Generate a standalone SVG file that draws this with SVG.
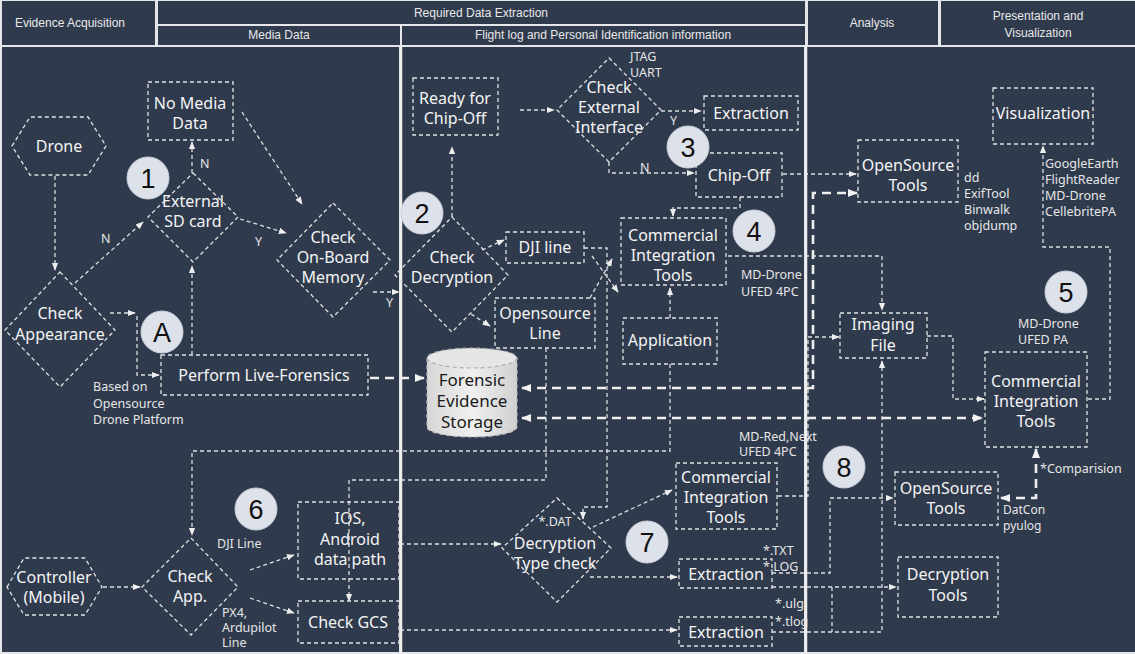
<svg xmlns="http://www.w3.org/2000/svg" width="1135" height="654" viewBox="0 0 1135 654">
<defs>
<style>
.cell{fill:#2f3a4d}
.hd{font-family:"Liberation Sans",Arial,sans-serif;font-size:12px;fill:#e8e8e8;text-anchor:middle}
.sep{stroke:#eeeeee;stroke-width:2.5}
.nd{fill:none;stroke:#e2e2e2;stroke-width:1.3;stroke-dasharray:4 3}
.lb{font-family:"Noto Sans","Open Sans",sans-serif;font-size:16px;fill:#f4f4f4;text-anchor:middle}
.an{font-family:"Noto Sans","Open Sans",sans-serif;font-size:12.5px;fill:#e6e6e6}
.c{fill:none;stroke:#dedede;stroke-width:1.3;stroke-dasharray:4 3}
.t{fill:none;stroke:#eeeeee;stroke-width:2.6;stroke-dasharray:9 6}
.num circle{fill:#dde1ea;stroke:#c9ced8;stroke-width:1}
.num text{font-family:"Liberation Sans",Arial,sans-serif;font-size:27px;fill:#111;text-anchor:middle}
.dk{font-family:"Noto Sans","Open Sans",sans-serif;font-size:17px;fill:#1a1a1a;text-anchor:middle}
</style>
<marker id="ah" viewBox="0 0 10 10" refX="9" refY="5" markerWidth="8" markerHeight="8" markerUnits="userSpaceOnUse" orient="auto-start-reverse"><path d="M0,1 L10,5 L0,9 z" fill="#eeeeee"/></marker>
<marker id="ahb" viewBox="0 0 10 10" refX="9" refY="5" markerWidth="10" markerHeight="10" markerUnits="userSpaceOnUse" orient="auto-start-reverse"><path d="M0,1 L10,5 L0,9 z" fill="#f2f2f2"/></marker>
<linearGradient id="cyl" x1="0" y1="0" x2="1" y2="0"><stop offset="0" stop-color="#d6d6d6"/><stop offset="0.5" stop-color="#f0f0f0"/><stop offset="1" stop-color="#d0d0d0"/></linearGradient>
</defs>

<rect x="0" y="0" width="1135" height="654" fill="#e4e6ea"/>
<!-- header -->
<g id="header">
<rect class="cell" x="2" y="1" width="153" height="44"/>
<rect class="cell" x="158" y="1" width="647" height="23"/>
<rect class="cell" x="158" y="26" width="242" height="19"/>
<rect class="cell" x="402" y="26" width="403" height="19"/>
<rect class="cell" x="808" y="1" width="130" height="44"/>
<rect class="cell" x="941" y="1" width="194" height="44"/>
<text class="hd" x="70" y="27">Evidence Acquisition</text>
<text class="hd" x="481" y="17">Required Data Extraction</text>
<text class="hd" x="279" y="39">Media Data</text>
<text class="hd" x="603" y="39">Flight log and Personal Identification information</text>
<text class="hd" x="872" y="27">Analysis</text>
<text class="hd" x="1038" y="20">Presentation and</text>
<text class="hd" x="1038" y="37">Visualization</text>
</g>
<!-- body panels -->
<rect class="cell" x="2" y="47" width="397" height="605"/>
<rect class="cell" x="402" y="47" width="402" height="605"/>
<rect class="cell" x="807" y="47" width="328" height="605"/>

<!-- connectors -->
<g id="connectors">
<path class="c" d="M55,176 V270" marker-end="url(#ah)"/>
<path class="c" d="M75,283 L143,222" marker-end="url(#ah)"/>
<path class="c" d="M192,173 V142" marker-end="url(#ah)"/>
<path class="c" d="M242,112 L302,204" marker-end="url(#ah)"/>
<path class="c" d="M240,219 L286,233" marker-end="url(#ah)"/>
<path class="c" d="M373,292 H399" marker-end="url(#ah)"/>
<path class="c" d="M110,313 H135" marker-end="url(#ah)"/>
<path class="c" d="M137,316 V375 H159" marker-end="url(#ah)"/>
<path class="c" d="M192,355 V266" marker-end="url(#ah)"/>
<path class="t" d="M370,378 H424" marker-end="url(#ahb)"/>
<path class="c" d="M452,217 V147" marker-end="url(#ah)"/>
<path class="c" d="M520,110 H554" marker-end="url(#ah)"/>
<path class="c" d="M661,111 H701" marker-end="url(#ah)"/>
<path class="c" d="M609,162 V173 H694" marker-end="url(#ah)"/>
<path class="c" d="M783,174 H856" marker-end="url(#ah)"/>
<path class="c" d="M740,197 V208 H673 V216" marker-end="url(#ah)"/>
<path class="c" d="M482,250 L504,240" marker-end="url(#ah)"/>
<path class="c" d="M471,314 L490,326" marker-end="url(#ah)"/>
<path class="c" d="M584,248 H607 V507 H583 V519" marker-end="url(#ah)"/>
<path class="c" d="M592,256 L618,292" marker-end="url(#ah)"/>
<path class="c" d="M590,298 L612,259" marker-end="url(#ah)"/>
<path class="c" d="M670,318 V288" marker-end="url(#ah)"/>
<path class="c" d="M670,364 V451 H192 V535" marker-end="url(#ah)"/>
<path class="c" d="M546,348 V480 H349 V601" marker-end="url(#ah)"/>
<path class="c" d="M728,256 H882 V310" marker-end="url(#ah)"/>
<path class="t" d="M522,388 H813 V193 H857" marker-start="url(#ahb)" marker-end="url(#ahb)"/>
<path class="t" d="M522,418 H982" marker-start="url(#ahb)" marker-end="url(#ahb)"/>
<path class="c" d="M778,496 H808 V337 H839" marker-end="url(#ah)"/>
<path class="c" d="M927,336 H953 V399 H984" marker-end="url(#ah)"/>
<path class="c" d="M1088,399 H1110 V247 H1043 V146" marker-end="url(#ah)"/>
<path class="t" d="M1036,449 V498 H1001" marker-start="url(#ahb)" marker-end="url(#ahb)"/>
<path class="c" d="M103,587 H140" marker-end="url(#ah)"/>
<path class="c" d="M250,570 L294,555" marker-end="url(#ah)"/>
<path class="c" d="M250,598 L294,613" marker-end="url(#ah)"/>
<path class="c" d="M400,544 H501" marker-end="url(#ah)"/>
<path class="c" d="M400,630 H677" marker-end="url(#ah)"/>
<path class="c" d="M593,527 L672,490" marker-end="url(#ah)"/>
<path class="c" d="M590,577 H677" marker-end="url(#ah)"/>
<path class="c" d="M772,573 H830 V498 H893" marker-end="url(#ah)"/>
<path class="c" d="M772,632 H882 V361" marker-end="url(#ah)"/>
<path class="c" d="M772,587 H896" marker-end="url(#ah)"/>
<path class="c" d="M832,587 V632"/>
</g>

<!-- separators on top of panels -->
<line class="sep" x1="401" y1="46" x2="401" y2="654"/>
<line class="sep" x1="806" y1="46" x2="806" y2="654"/>

<!-- nodes -->
<g id="drone"><polygon class="nd" points="12,146 30,117 88,117 106,146 88,175 30,175"/><text class="lb" x="59" y="152">Drone</text></g>
<g id="no-media"><rect class="nd" x="148" y="82" width="85" height="58"/><text class="lb" x="190" y="109">No Media</text><text class="lb" x="190" y="129">Data</text></g>
<g id="external-sd"><polygon class="nd" points="193,173 238,217 193,262 148,217"/><text class="lb" x="193" y="207">External</text><text class="lb" x="193" y="227">SD card</text></g>
<g id="check-onboard"><polygon class="nd" points="333,203 390,260 333,317 277,260"/><text class="lb" x="333" y="243">Check</text><text class="lb" x="333" y="263">On-Board</text><text class="lb" x="333" y="283">Memory</text></g>
<g id="check-appearance"><polygon class="nd" points="60,272 115,330 60,387 5,330"/><text class="lb" x="60" y="319">Check</text><text class="lb" x="60" y="340">Appearance</text></g>
<g id="live-forensics"><rect class="nd" x="161" y="355" width="207" height="40"/><text class="lb" x="264" y="381">Perform Live-Forensics</text></g>
<g id="storage">
<path d="M427,358 V427 A45,10 0 0 0 517,427 V358" fill="url(#cyl)" stroke="#bbbbbb" stroke-width="1.2" stroke-dasharray="4 3"/>
<ellipse cx="472" cy="358" rx="45" ry="10" fill="#e6e6e6" stroke="#aaaaaa" stroke-width="1.2" stroke-dasharray="4 3"/>
<text class="dk" x="472" y="386">Forensic</text><text class="dk" x="472" y="407">Evidence</text><text class="dk" x="472" y="428">Storage</text>
</g>
<g id="check-decryption"><polygon class="nd" points="452,217 508,275 452,332 395,275"/><text class="lb" x="452" y="263">Check</text><text class="lb" x="452" y="283">Decryption</text></g>
<g id="ready-chipoff"><rect class="nd" x="413" y="78" width="85" height="57"/><text class="lb" x="455" y="104">Ready for</text><text class="lb" x="455" y="124">Chip-Off</text></g>
<g id="check-external"><polygon class="nd" points="609,58 661,110 609,162 557,110"/><text class="lb" x="609" y="93">Check</text><text class="lb" x="609" y="113">External</text><text class="lb" x="609" y="133">Interface</text></g>
<g id="extraction-top"><rect class="nd" x="704" y="96" width="94" height="34"/><text class="lb" x="751" y="119">Extraction</text></g>
<g id="chip-off"><rect class="nd" x="696" y="153" width="86" height="44"/><text class="lb" x="739" y="181">Chip-Off</text></g>
<g id="commercial-4"><rect class="nd" x="621" y="218" width="105" height="67"/><text class="lb" x="673" y="241">Commercial</text><text class="lb" x="673" y="261">Integration</text><text class="lb" x="673" y="281">Tools</text></g>
<g id="dji-line"><rect class="nd" x="506" y="232" width="78" height="31"/><text class="lb" x="545" y="253">DJI line</text></g>
<g id="opensource-line"><rect class="nd" x="495" y="298" width="100" height="50"/><text class="lb" x="545" y="319">Opensource</text><text class="lb" x="545" y="339">Line</text></g>
<g id="application"><rect class="nd" x="623" y="318" width="94" height="46"/><text class="lb" x="670" y="346">Application</text></g>
<g id="imaging-file"><rect class="nd" x="840" y="313" width="87" height="45"/><text class="lb" x="883" y="330">Imaging</text><text class="lb" x="883" y="351">File</text></g>
<g id="commercial-5"><rect class="nd" x="985" y="352" width="102" height="95"/><text class="lb" x="1036" y="387">Commercial</text><text class="lb" x="1036" y="407">Integration</text><text class="lb" x="1036" y="427">Tools</text></g>
<g id="visualization"><rect class="nd" x="993" y="88" width="100" height="56"/><text class="lb" x="1043" y="119">Visualization</text></g>
<g id="opensource-top"><rect class="nd" x="858" y="140" width="100" height="62"/><text class="lb" x="908" y="171">OpenSource</text><text class="lb" x="908" y="191">Tools</text></g>
<g id="controller"><polygon class="nd" points="7,587 24,558 85,558 102,587 85,615 24,615"/><text class="lb" x="54" y="583">Controller</text><text class="lb" x="54" y="603">(Mobile)</text></g>
<g id="check-app"><polygon class="nd" points="191,538 238,587 191,635 142,587"/><text class="lb" x="190" y="582">Check</text><text class="lb" x="190" y="602">App.</text></g>
<g id="ios-android"><rect class="nd" x="298" y="502" width="101" height="77"/><text class="lb" x="350" y="524">IOS,</text><text class="lb" x="350" y="545">Android</text><text class="lb" x="350" y="565">data path</text></g>
<g id="check-gcs"><rect class="nd" x="298" y="601" width="101" height="42"/><text class="lb" x="348" y="628">Check GCS</text></g>
<g id="type-check"><polygon class="nd" points="557,498 611,548 557,602 502,548"/><text class="an" x="555" y="526" text-anchor="middle">*.DAT</text><text class="lb" x="555" y="549">Decryption</text><text class="lb" x="555" y="569">Type check</text></g>
<g id="commercial-7"><rect class="nd" x="676" y="463" width="101" height="66"/><text class="lb" x="726" y="483">Commercial</text><text class="lb" x="726" y="503">Integration</text><text class="lb" x="726" y="523">Tools</text></g>
<g id="extraction-mid"><rect class="nd" x="679" y="559" width="93" height="29"/><text class="lb" x="726" y="580">Extraction</text></g>
<g id="extraction-bottom"><rect class="nd" x="679" y="617" width="93" height="29"/><text class="lb" x="726" y="638">Extraction</text></g>
<g id="opensource-8"><rect class="nd" x="895" y="472" width="103" height="53"/><text class="lb" x="946" y="494">OpenSource</text><text class="lb" x="946" y="514">Tools</text></g>
<g id="decryption-tools"><rect class="nd" x="898" y="557" width="100" height="60"/><text class="lb" x="948" y="580">Decryption</text><text class="lb" x="948" y="601">Tools</text></g>

<!-- numbered markers -->
<g class="num" id="markers">
<g><circle cx="148" cy="178" r="21"/><text x="148" y="188">1</text></g>
<g><circle cx="162" cy="332" r="21"/><text x="162" y="342">A</text></g>
<g><circle cx="422" cy="213" r="21"/><text x="422" y="223">2</text></g>
<g><circle cx="688" cy="147" r="21"/><text x="688" y="157">3</text></g>
<g><circle cx="754" cy="231" r="21"/><text x="754" y="241">4</text></g>
<g><circle cx="1066" cy="292" r="21"/><text x="1066" y="302">5</text></g>
<g><circle cx="256" cy="509" r="21"/><text x="256" y="519">6</text></g>
<g><circle cx="647" cy="542" r="21"/><text x="647" y="552">7</text></g>
<g><circle cx="844" cy="467" r="21"/><text x="844" y="477">8</text></g>
</g>

<!-- annotations -->
<g id="annotations">
<text class="an" x="101" y="243">N</text>
<text class="an" x="200" y="168">N</text>
<text class="an" x="255" y="246">Y</text>
<text class="an" x="386" y="307">Y</text>
<text class="an" x="670" y="125">Y</text>
<text class="an" x="640" y="172">N</text>
<text class="an" x="630" y="61">JTAG</text>
<text class="an" x="630" y="77">UART</text>
<text class="an" x="93" y="391">Based on</text>
<text class="an" x="93" y="408">Opensource</text>
<text class="an" x="93" y="424">Drone Platform</text>
<text class="an" x="741" y="279">MD-Drone</text>
<text class="an" x="741" y="296">UFED 4PC</text>
<text class="an" x="1018" y="328">MD-Drone</text>
<text class="an" x="1018" y="344">UFED PA</text>
<text class="an" x="1045" y="168">GoogleEarth</text>
<text class="an" x="1045" y="184">FlightReader</text>
<text class="an" x="1045" y="200">MD-Drone</text>
<text class="an" x="1045" y="216">CellebritePA</text>
<text class="an" x="964" y="182">dd</text>
<text class="an" x="964" y="198">ExifTool</text>
<text class="an" x="964" y="214">Binwalk</text>
<text class="an" x="964" y="230">objdump</text>
<text class="an" x="217" y="548">DJI Line</text>
<text class="an" x="222" y="617">PX4,</text>
<text class="an" x="222" y="632">Ardupilot</text>
<text class="an" x="222" y="647">Line</text>
<text class="an" x="739" y="441">MD-Red,Next</text>
<text class="an" x="739" y="456">UFED 4PC</text>
<text class="an" x="763" y="555">*.TXT</text>
<text class="an" x="763" y="571">*.LOG</text>
<text class="an" x="775" y="608">*.ulg</text>
<text class="an" x="775" y="626">*.tlog</text>
<text class="an" x="1040" y="473">*Comparision</text>
<text class="an" x="1003" y="514" style="font-size:12px">DatCon</text>
<text class="an" x="1003" y="530" style="font-size:12px">pyulog</text>
</g>
</svg>
